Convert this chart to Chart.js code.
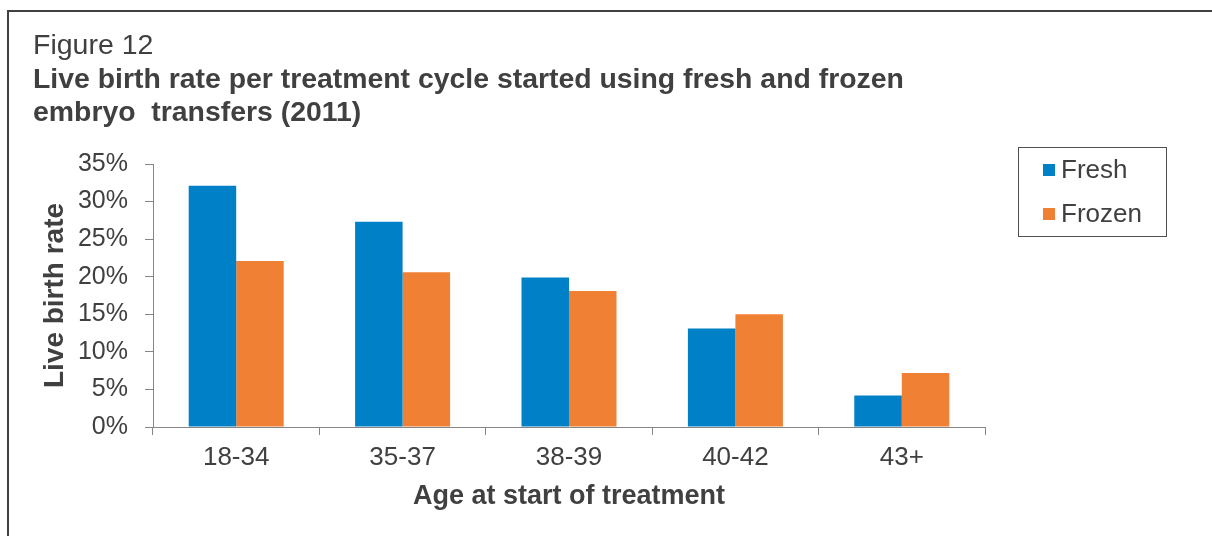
<!DOCTYPE html>
<html>
<head>
<meta charset="utf-8">
<script src="https://cdn.jsdelivr.net/npm/chart.js@4"></script>
<style>
  html, body { margin: 0; padding: 0; background: #fff; }
  body { width: 1212px; height: 536px; position: relative; overflow: hidden; }
  #frame {
    position: absolute; left: 7px; top: 10px; width: 1400px; height: 700px;
    border-left: 2px solid #404040; border-top: 2px solid #404040;
  }
  #wrap { position: absolute; left: 0; top: 0; width: 1212px; height: 536px; }
</style>
</head>
<body>
<div id="frame"></div>
<div id="wrap"><canvas id="myChart" width="1212" height="536"></canvas></div>
<script>
var ageGroups = ['18-34', '35-37', '38-39', '40-42', '43+'];
var freshRate = [32.1, 27.3, 19.9, 13.1, 4.2];
var frozenRate = [22.1, 20.6, 18.1, 15.0, 7.2];
var yTicks = [0, 5, 10, 15, 20, 25, 30, 35];

var textColor = '#404040';
var axisColor = '#868686';
var fontFamily = '"Liberation Sans", Arial, sans-serif';

// legend drawn as a framed box to the right, like the original
var boxLegend = {
    id: 'boxLegend',
    afterDraw: function (chart) {
        var ctx = chart.ctx;
        ctx.save();
        ctx.strokeStyle = '#505050';
        ctx.lineWidth = 1;
        ctx.strokeRect(1018.5, 147.5, 148, 89);
        ctx.font = '26px ' + fontFamily;
        ctx.textBaseline = 'middle';
        chart.data.datasets.forEach(function (ds, i) {
            var y = 170 + i * 44;
            ctx.fillStyle = ds.backgroundColor;
            ctx.fillRect(1043, y - 6, 12, 12);
            ctx.fillStyle = textColor;
            ctx.fillText(ds.label, 1061, y + 1);
        });
        ctx.restore();
    }
};

var ctx = document.getElementById('myChart').getContext('2d');

var myChart = new Chart(ctx, {
    type: 'bar',
    data: {
        labels: ageGroups,
        datasets: [{
            label: 'Fresh',
            backgroundColor: '#0080C6',
            data: freshRate
        }, {
            label: 'Frozen',
            backgroundColor: '#F08034',
            data: frozenRate
        }]
    },
    plugins: [boxLegend],
    options: {
        responsive: false,
        animation: false,
        layout: {
            padding: { left: 33, right: 227, top: 0, bottom: 0 }
        },
        datasets: {
            bar: {
                categoryPercentage: 0.571,
                barPercentage: 1
            }
        },
        plugins: {
            legend: { display: false },
            tooltip: { enabled: false },
            title: {
                display: true,
                text: 'Figure 12',
                align: 'start',
                color: textColor,
                font: { family: fontFamily, size: 28.5, weight: 'normal', lineHeight: 1.2 },
                padding: { top: 29.4, bottom: 0 }
            },
            subtitle: {
                display: true,
                text: ['Live birth rate per treatment cycle started using fresh and frozen',
                       'embryo  transfers (2011)'],
                align: 'start',
                color: textColor,
                font: { family: fontFamily, size: 28.4, weight: 'bold', lineHeight: 33 / 28.4 },
                padding: { top: 0, bottom: 34.4 }
            }
        },
        scales: {
            x: {
                afterFit: function (scale) { scale.height = 109; },
                grid: {
                    offset: true,
                    drawOnChartArea: false,
                    drawTicks: true,
                    tickLength: 8,
                    color: axisColor
                },
                border: { display: true, color: axisColor, width: 1 },
                ticks: {
                    color: textColor,
                    padding: 7.4,
                    font: { family: fontFamily, size: 26 }
                },
                title: {
                    display: true,
                    text: 'Age at start of treatment',
                    color: textColor,
                    font: { family: fontFamily, size: 27, weight: 'bold', lineHeight: 1.2 },
                    padding: { top: 0, bottom: 22.8 }
                }
            },
            y: {
                min: 0,
                max: 35,
                afterFit: function (scale) { scale.width = 120; },
                afterBuildTicks: function (scale) {
                    scale.ticks = yTicks.map(function (v) { return { value: v }; });
                },
                grid: {
                    drawOnChartArea: false,
                    drawTicks: true,
                    tickLength: 8,
                    color: axisColor
                },
                border: { display: true, color: axisColor, width: 1 },
                ticks: {
                    color: textColor,
                    padding: 17,
                    font: { family: fontFamily, size: 25 },
                    callback: function (v) { return v + '%'; }
                },
                title: {
                    display: true,
                    text: 'Live birth rate',
                    color: textColor,
                    font: { family: fontFamily, size: 28, weight: 'bold', lineHeight: 1.2 },
                    padding: { top: 5.2, bottom: 0 }
                }
            }
        }
    }
});
</script>
</body>
</html>
